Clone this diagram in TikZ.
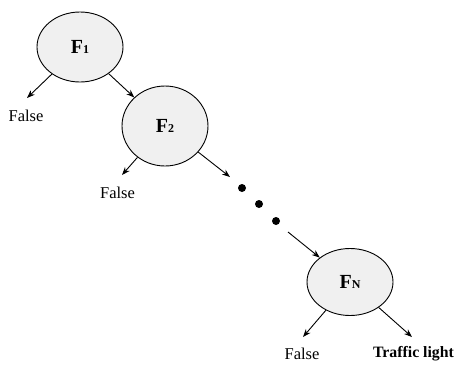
\documentclass[tikz,border=0pt]{standalone}
\usepackage{fontspec}
\setmainfont{Liberation Serif}
\usetikzlibrary{shapes.geometric,arrows.meta}
\begin{document}
\begin{tikzpicture}[x=1pt,y=-1pt,
  test/.style={ellipse,draw=black,line width=0.9pt,fill=gray!12,inner sep=0pt,
    minimum width=86pt,font=\fontsize{20}{22}\selectfont\bfseries},
  flow/.style={line width=0.9pt,-{Stealth[length=8pt,width=6pt]}},
  outcome/.style={anchor=base,inner sep=0pt,font=\fontsize{16.5}{18}\selectfont},
  dot/.style={circle,fill=black,inner sep=0pt,minimum size=8pt}]
\useasboundingbox (0,0) rectangle (455,365);

% classifier stages
\node[test,minimum height=70pt] (f1) at (80,47) {F{\fontsize{12}{12}\selectfont 1}};
\node[test,minimum height=80pt] (f2) at (165,126) {F{\fontsize{12}{12}\selectfont 2}};
\node[test,minimum height=67pt] (fn) at (350,282) {F{\fontsize{12}{12}\selectfont N}};

% ellipsis between stage 2 and stage N
\node[dot] (d1) at (242,188) {};
\node[dot] (d2) at (259,204) {};
\node[dot] (d3) at (276,221) {};

% arrow tips and the start of the last link
\coordinate (t1l) at (27,98);
\coordinate (t2l) at (122,175);
\coordinate (t2r) at (230,177);
\coordinate (sn) at (288,232);
\coordinate (tnl) at (303,337);
\coordinate (tnr) at (412,337);

% outcomes
\node[outcome] (o1) at (26,121) {False};
\node[outcome] (o2) at (117.5,198) {False};
\node[outcome] (o3) at (302,359) {False};
\node[outcome,font=\fontsize{15.8}{18}\selectfont\bfseries] (o4) at (413.5,357) {Traffic light};

% links
\draw[flow] (f1) -- (t1l);
\draw[flow] (f1) -- (f2);
\draw[flow] (f2) -- (t2l);
\draw[flow] (f2) -- (t2r);
\draw[flow] (sn) -- (fn);
\draw[flow] (fn) -- (tnl);
\draw[flow] (fn) -- (tnr);
\end{tikzpicture}
\end{document}
